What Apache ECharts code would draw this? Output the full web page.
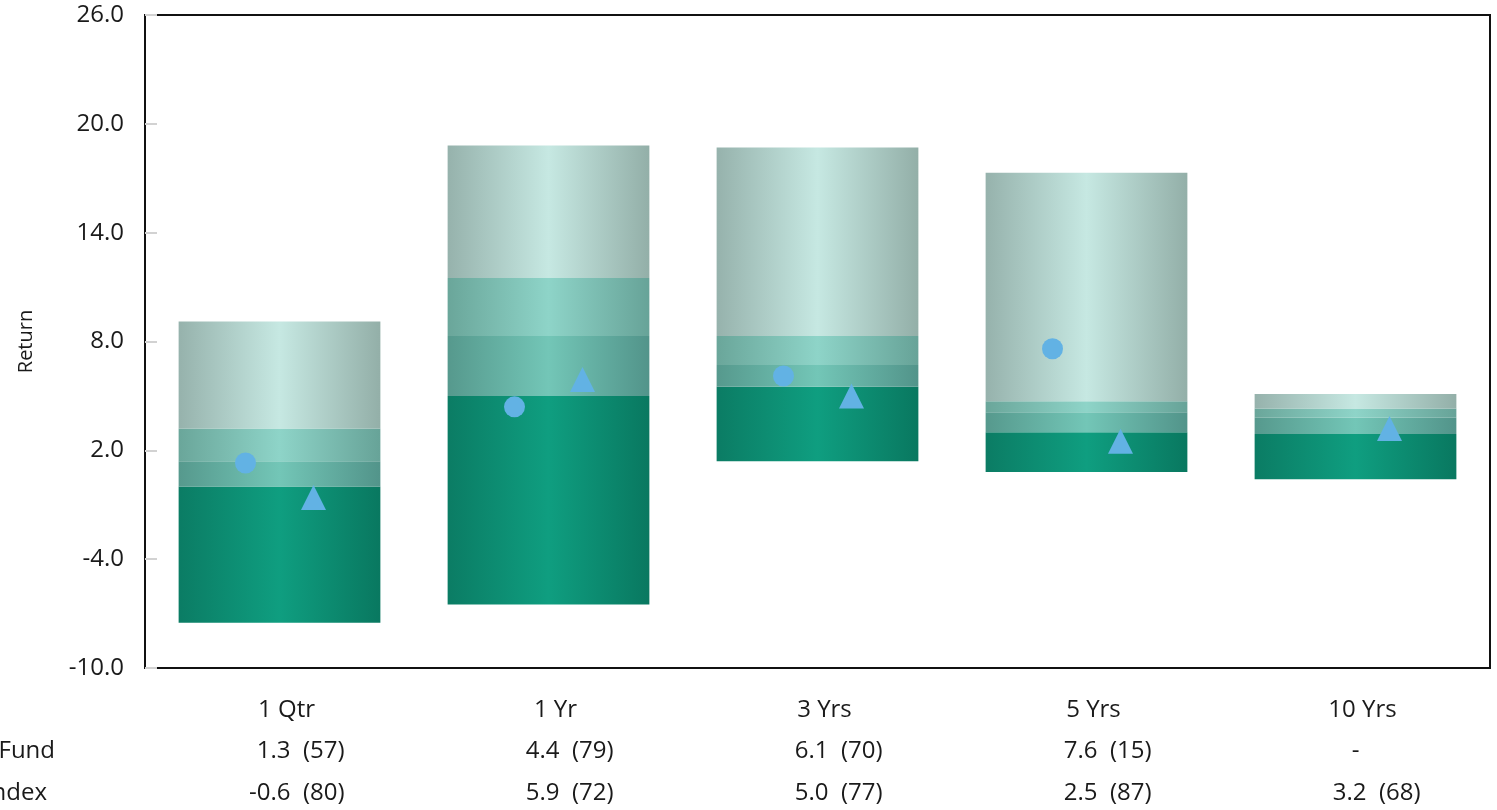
<!DOCTYPE html>
<html>
<head>
<meta charset="utf-8">
<script src="https://cdn.jsdelivr.net/npm/echarts@6/dist/echarts.min.js"></script>
<style>
html,body{margin:0;padding:0;background:#fff;}
#chart{width:1497px;height:810px;}
</style>
</head>
<body>
<div id="chart"></div>
<script>
// ---- data ----
const categories = ['1 Qtr', '1 Yr', '3 Yrs', '5 Yrs', '10 Yrs'];
const p5  = [9.1, 18.8, 18.7, 17.3, 5.1];
const p25 = [3.2, 11.5, 8.3, 4.7, 4.3];
const p50 = [1.4, 8.3, 6.7, 4.1, 3.8];
const p75 = [0.0, 5.0, 5.5, 3.0, 2.9];
const p95 = [-7.5, -6.5, 1.4, 0.8, 0.4];
const fundValues  = [1.3, 4.4, 6.1, 7.6, null];
const indexValues = [-0.6, 5.9, 5.0, 2.5, 3.2];
const fundLabels  = ['1.3  (57)', '4.4  (79)', '6.1  (70)', '7.6  (15)', '-'];
const indexLabels = ['-0.6  (80)', '5.9  (72)', '5.0  (77)', '2.5  (87)', '3.2  (68)'];
const rowLabels = ['Fund', 'Index'];
const yTicks = {min: -10, max: 26, interval: 6};

// stacked segment sizes
const seg = (a, b) => a.map((v, i) => +(v - b[i]).toFixed(2));
const s1 = seg(p75, p95);
const s2 = seg(p50, p75);
const s3 = seg(p25, p50);
const s4 = seg(p5, p25);

const grad = (edgeL, mid, edgeR) => ({
  type: 'linear', x: 0, y: 0, x2: 1, y2: 0,
  colorStops: [
    {offset: 0, color: edgeL},
    {offset: 0.5, color: mid},
    {offset: 1, color: edgeR}
  ]
});

const FONT = "'Open Sans', 'Noto Sans', sans-serif";
const TXT = '#1a1a1a';
const FS = 24;
const chart = echarts.init(document.getElementById('chart'), null, {renderer: 'canvas'});

const barBase = {type: 'bar', stack: 'r', stackStrategy: 'all', barWidth: '75%', silent: true, animation: false};

chart.setOption({
  animation: false,
  grid: {left: 145, right: 7, top: 15, bottom: 142, show: true, borderColor: '#111', borderWidth: 2, backgroundColor: 'transparent'},
  xAxis: {
    type: 'category',
    data: categories,
    axisLine: {show: false},
    axisTick: {show: false},
    axisLabel: {
      interval: 0,
      margin: 21,
      fontFamily: FONT,
      fontSize: FS,
      color: TXT,
      formatter: function (v, i) {
        const f = fundLabels[i] === '-' ? '{d|-}' : '{f|' + fundLabels[i] + '}';
        return '{c|' + v + '}\n' + f + '\n{f|' + indexLabels[i] + '}';
      },
      rich: {
        c: {width: 130, align: 'center', padding: [0, 0, 0, 14], lineHeight: 41.5, fontSize: FS, fontFamily: FONT, color: TXT},
        f: {width: 130, align: 'right', padding: [0, 7, 0, 0], lineHeight: 41.5, fontSize: FS, fontFamily: FONT, color: TXT},
        d: {width: 130, align: 'center', lineHeight: 41.5, fontSize: FS, fontFamily: FONT, color: TXT}
      }
    }
  },
  yAxis: {
    type: 'value',
    min: yTicks.min, max: yTicks.max, interval: yTicks.interval,
    name: 'Return',
    nameLocation: 'middle',
    nameRotate: 90,
    nameGap: 109,
    nameTextStyle: {fontFamily: FONT, fontSize: 20, color: TXT},
    axisLine: {show: false},
    axisTick: {show: true, inside: true, length: 12, lineStyle: {color: '#d2d2d2', width: 2}},
    splitLine: {show: false},
    axisLabel: {
      margin: 21,
      fontFamily: FONT, fontSize: FS, color: TXT,
      formatter: v => v.toFixed(1)
    }
  },
  graphic: [
    {type: 'text', x: 55, y: 751, style: {text: rowLabels[0], textAlign: 'right', textVerticalAlign: 'middle', font: FS + 'px ' + FONT, fill: TXT}},
    {type: 'text', x: 47, y: 793, style: {text: rowLabels[1], textAlign: 'right', textVerticalAlign: 'middle', font: FS + 'px ' + FONT, fill: TXT}}
  ],
  series: [
    Object.assign({}, barBase, {name: 'base', data: p95, itemStyle: {color: 'rgba(0,0,0,0)'}}),
    Object.assign({}, barBase, {name: '75th-95th', data: s1, itemStyle: {color: grad('#0b7c64', '#0f9e80', '#097860')}}),
    Object.assign({}, barBase, {name: 'Median-75th', data: s2, itemStyle: {color: grad('#56998d', '#73c6b7', '#52948a')}}),
    Object.assign({}, barBase, {name: '25th-Median', data: s3, itemStyle: {color: grad('#6aa69a', '#8ed4c8', '#67a398')}}),
    Object.assign({}, barBase, {name: '5th-25th', data: s4, itemStyle: {color: grad('#96b2ac', '#c6e8e2', '#93afa8')}}),
    {type: 'scatter', name: 'Fund', data: fundValues, symbol: 'circle', symbolSize: 21, symbolOffset: [-34, 0], itemStyle: {color: '#62b2e4', opacity: 1}, z: 5, silent: true},
    {type: 'scatter', name: 'Index', data: indexValues, symbol: 'triangle', symbolSize: [25, 25], symbolOffset: [34, 0], itemStyle: {color: '#62b2e4', opacity: 1}, z: 5, silent: true}
  ]
});
</script>
</body>
</html>
